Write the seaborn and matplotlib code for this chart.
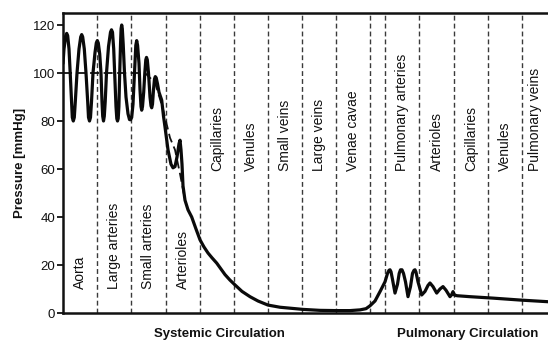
import matplotlib
matplotlib.use("Agg")
import matplotlib.pyplot as plt
import seaborn as sns
import pandas as pd

# ---- data (x = position along the circulation, arbitrary units) ----
pressure_x = [0, 1, 2.7, 3.7, 4.7, 6, 7.2, 8.5, 9.3, 10.3, 11.3, 12.3, 14, 16, 17.7, 18.7,
              19.7, 21.3, 23, 24.7, 25.5, 26.5, 27.5, 28.5, 30, 32, 33.3, 34.3, 35.3, 36.7,
              38, 39, 39.7, 40.5, 41.3, 42.2, 43.5, 45.5, 47.5, 48.5, 49.5, 50.7, 52, 53,
              53.8, 54.5, 55.2, 55.9, 56.7, 57.6, 58.1, 58.7, 59.3, 60.2, 61.5, 63, 65,
              66.5, 67.5, 68.7, 70, 71.5, 72.8, 73.7, 74.6, 76, 77, 78, 78.7, 79.5, 80.7,
              81.8, 82.8, 83.5, 84.3, 85.5, 87, 88, 88.7, 89.5, 90.5, 91.5, 92.3, 93.2,
              94.5, 96, 98.7, 100.5, 102, 105, 108, 110, 112, 114, 116, 117, 118, 119, 120,
              122, 125, 128.7, 133, 137, 141, 145, 149, 153.7, 158, 162, 167, 172, 179,
              187, 195, 205, 217, 227, 240, 257, 274, 287, 297, 303, 307, 312, 317, 322,
              324.5, 326, 327, 328, 329.5, 332, 334.5, 336.2, 337.5, 339, 340.5, 342.5,
              345, 347.5, 349.5, 351, 352, 353, 355, 358.7, 362, 365, 367, 370, 373.7,
              377, 380, 383, 387, 388.5, 390, 391.5, 394, 407, 430, 457, 485]
pressure_y = [104, 110, 115.5, 116.5, 115.5, 110, 100, 88, 81.5, 80, 81.5, 88, 100, 110, 115,
              116, 115, 110, 100, 88, 81.5, 80, 81.5, 88, 100, 108.5, 112.5, 113.5, 112.5,
              108, 100, 88, 82, 80, 82, 88, 100, 111, 117, 118, 117, 110, 97, 86, 81, 80,
              81, 86, 100, 113, 118.5, 120, 118.5, 112, 100, 90, 83, 80.6, 80.5, 81.5, 87,
              100, 111.5, 113.5, 111.5, 104, 93, 86, 84.5, 86, 92, 100, 105.5, 106.5,
              105.5, 100, 90, 86.3, 85.5, 87, 93, 97.5, 98.5, 98, 95.5, 92, 88.7, 82,
              77.5, 68, 62, 60.5, 61, 65, 70.5, 72, 68, 62, 53, 47, 43, 40, 35, 30.5,
              27.5, 25, 23, 20.8, 18.3, 16, 13.7, 11.7, 9, 6.8, 5, 3.3, 2.4, 2, 1.5, 1.1,
              1.0, 1.0, 1.3, 1.8, 3, 5, 8.9, 13, 16.5, 17.8, 18, 17.2, 14, 8.3, 12, 16.5,
              18, 18, 16.5, 13, 6.8, 11, 16.5, 17.8, 18, 17, 13, 7.5, 9, 11.5, 12.5, 11,
              8.3, 10, 11, 9.5, 6.8, 7.5, 8.9, 7.5, 7.2, 6.8, 6.2, 5.4, 4.7]

mean_x = [0, 82, 92, 100, 107, 112, 117, 122]
mean_y = [100, 100, 96, 85, 73, 68, 58, 47]

boundaries = [34, 68, 103, 137, 171, 205, 239, 273, 307, 322, 356, 391, 425, 459]
x_end = 485

systemic_labels = ["Aorta", "Large arteries", "Small arteries", "Arterioles",
                   "Capillaries", "Venules", "Small veins", "Large veins", "Venae cavae"]
systemic_label_y = [10, 10, 10, 10, 59, 59, 59, 59, 59]
pulmonary_labels = ["Pulmonary arteries", "Arterioles", "Capillaries", "Venules",
                    "Pulmonary veins"]
pulmonary_label_y = [59, 59, 59, 59, 59]

y_ticks = [0, 20, 40, 60, 80, 100, 120]

# ---- style ----
sns.set_theme(style="white")
plt.rcParams["font.family"] = ["Liberation Sans", "DejaVu Sans"]

fig = plt.figure(figsize=(5.48, 3.42), dpi=100)
ax = fig.add_axes([63 / 548, 1 - 313 / 342, 1 - 63 / 548, (313 - 13) / 342])

# vertical dashed compartment lines
for b in boundaries:
    ax.axvline(b, color="#3a3a3a", lw=1.0, dashes=(3.5, 2.2), zorder=1)

df = pd.DataFrame({"x": pressure_x, "y": pressure_y})
dm = pd.DataFrame({"x": mean_x, "y": mean_y})
sns.lineplot(data=dm, x="x", y="y", ax=ax, color="#111111", lw=1.3,
             sort=False, estimator=None, zorder=2)
ax.lines[-1].set_dashes((5, 2.5))
sns.lineplot(data=df, x="x", y="y", ax=ax, color="#0a0a0a", lw=2.3,
             sort=False, estimator=None, zorder=3)
ax.lines[-1].set_solid_joinstyle("round")

# compartment labels
edges = [0] + boundaries + [x_end]
sys_edges = edges[:10]
for i, (lab, ly) in enumerate(zip(systemic_labels, systemic_label_y)):
    xc = (sys_edges[i] + sys_edges[i + 1]) / 2
    ax.text(xc, ly, lab, rotation=90, ha="center", va="bottom", fontsize=10,
            color="#111111", zorder=4)
pul_edges = edges[10:]
for i, (lab, ly) in enumerate(zip(pulmonary_labels, pulmonary_label_y)):
    xc = (pul_edges[i] + pul_edges[i + 1]) / 2
    ax.text(xc, ly, lab, rotation=90, ha="center", va="bottom", fontsize=10,
            color="#111111", zorder=4)

ax.set_xlim(0, x_end)
ax.set_ylim(0, 125)
ax.set_yticks(y_ticks)
ax.set_xticks([])
ax.set_xlabel("")
ax.set_ylabel("Pressure [mmHg]", fontsize=9.5, fontweight="bold", labelpad=5,
              color="#111111")
ax.tick_params(axis="y", which="both", left=True, length=4, width=1.3,
               labelsize=9.5, pad=1.5, colors="#111111")

for side in ["left", "bottom", "top"]:
    ax.spines[side].set_visible(True)
    ax.spines[side].set_color("#111111")
    ax.spines[side].set_linewidth(1.8)
ax.spines["right"].set_visible(False)

fig.text(219 / 548, 1 - 334 / 342, "Systemic Circulation", ha="center", va="center",
         fontsize=9.5, fontweight="bold", color="#111111")
fig.text(468 / 548, 1 - 334 / 342, "Pulmonary Circulation", ha="center", va="center",
         fontsize=9.5, fontweight="bold", color="#111111")

fig.savefig("out.png", dpi=100)
